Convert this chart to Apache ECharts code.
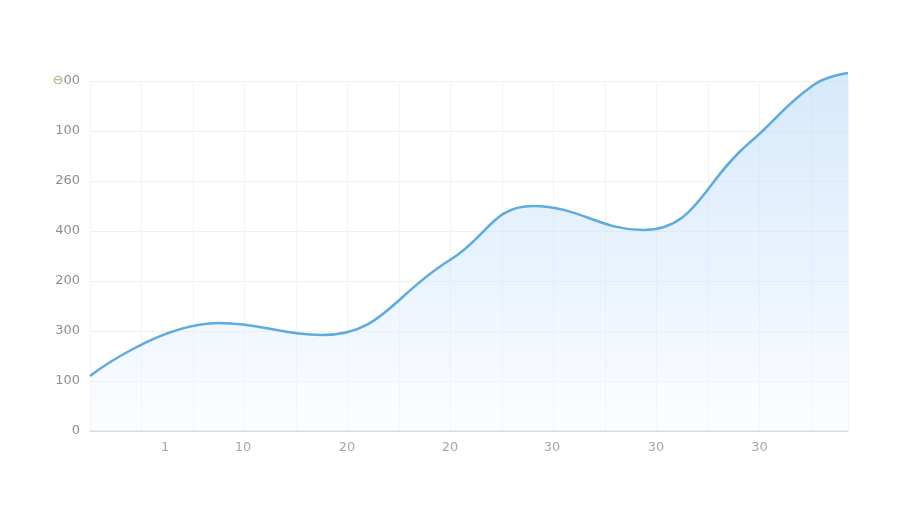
<!DOCTYPE html>
<html>
<head>
<meta charset="utf-8">
<script src="https://cdn.jsdelivr.net/npm/echarts@6/dist/echarts.min.js"></script>
<style>html,body{margin:0;padding:0;background:#fff}#c{width:900px;height:512px}</style>
</head>
<body>
<div id="c"></div>
<script>
// y tick labels (bottom to top), as printed on the chart
const yTickLabels = ['0', '100', '300', '200', '400', '260', '100', '⊖00'];
// x tick labels and their positions along the x axis
const xTickLabels = ['1', '10', '20', '20', '30', '30', '30'];
const xTickPositions = [1.46, 2.97, 4.99, 6.99, 8.97, 10.99, 13.0];
// curve sample points (x position, value in tick steps)
const xs = [0, 2.5, 4.5, 6.99, 8.6, 10.74, 12.8, 14.05, 14.72];
const ys = [1.1, 2.16, 1.92, 3.42, 4.5, 4.02, 5.76, 6.92, 7.16];

const chart = echarts.init(document.getElementById('c'), null, {renderer: 'canvas'});
const labelMap = {};
xTickPositions.forEach((p, i) => labelMap[p] = xTickLabels[i]);
chart.setOption({
  backgroundColor: '#ffffff',
  animation: false,
  grid: {left: 90, right: 52, top: 81, bottom: 81},
  xAxis: {
    type: 'value', min: 0, max: 14.72, interval: 1,
    axisLine: {show: true, lineStyle: {color: '#d4d4d4', width: 1.5}},
    axisTick: {show: false},
    splitLine: {show: true, lineStyle: {color: '#f3f3f3', width: 1}},
    axisLabel: {
      customValues: xTickPositions,
      formatter: v => labelMap[v] !== undefined ? labelMap[v] : '',
      color: '#a8a8a8', fontSize: 13, margin: 10, fontFamily: 'DejaVu Sans'
    }
  },
  yAxis: {
    type: 'value', min: 0, max: 7, interval: 1,
    axisLine: {show: false}, axisTick: {show: false},
    splitLine: {show: true, lineStyle: {color: '#f0f0f0', width: 1}},
    axisLabel: {
      formatter: v => {
        const t = yTickLabels[Math.round(v)] || '';
        if (t.charAt(0) === '⊖') return '{c|⊖}{n|' + t.slice(1) + '}';
        return '{n|' + t + '}';
      },
      rich: {
        n: {color: '#8f8f8f', fontSize: 13, fontFamily: 'DejaVu Sans'},
        c: {color: '#b3a26e', fontSize: 13, fontFamily: 'DejaVu Sans'}
      },
      margin: 10
    }
  },
  series: [{
    type: 'line',
    data: xs.map((x, i) => [x, ys[i]]),
    smooth: 0.45,
    clip: false,
    showSymbol: false,
    lineStyle: {color: '#5eabdf', width: 2.5},
    areaStyle: {
      color: new echarts.graphic.LinearGradient(0, 0, 0, 1, [
        {offset: 0, color: 'rgba(190,220,248,0.9)'},
        {offset: 0.6, color: 'rgba(215,233,252,0.7)'},
        {offset: 1, color: 'rgba(248,251,255,0.6)'}
      ])
    }
  }]
});
</script>
</body>
</html>
